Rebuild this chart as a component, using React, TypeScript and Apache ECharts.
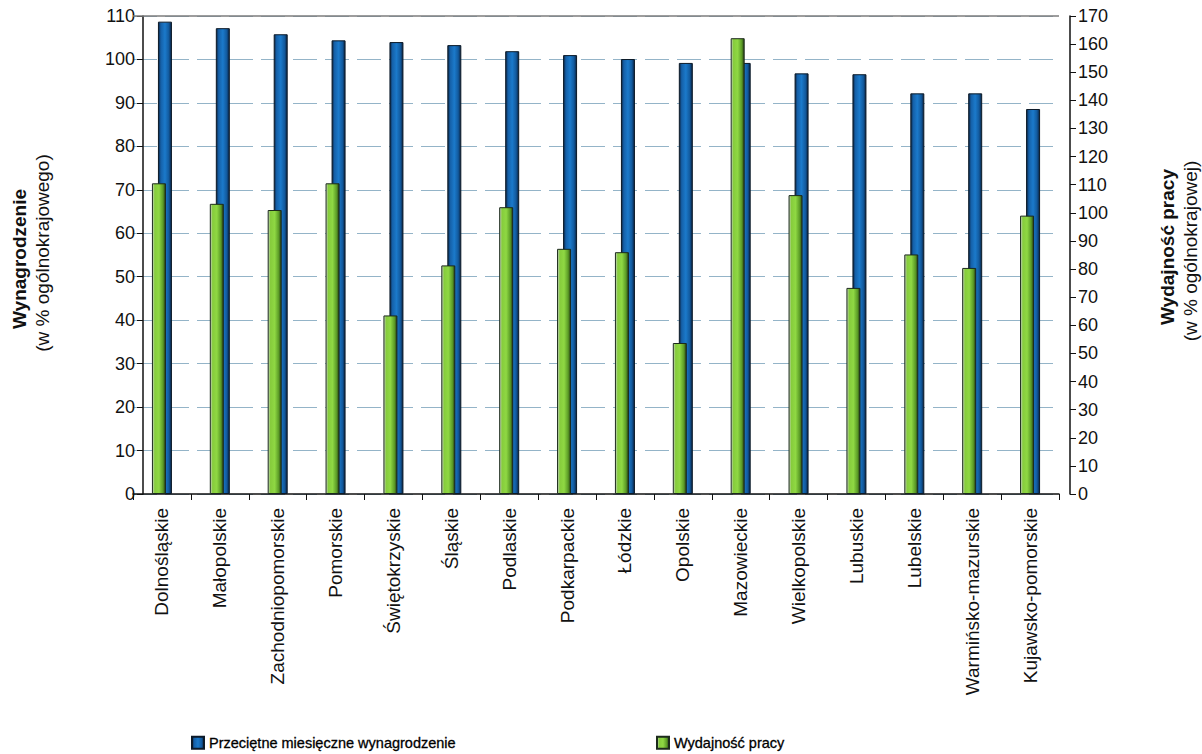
import React, { useEffect, useRef } from "react";
import * as echarts from "echarts";

// Regions (voivodeships), ordered by average monthly wage
const regions = [
  "Dolnośląskie",
  "Małopolskie",
  "Zachodniopomorskie",
  "Pomorskie",
  "Świętokrzyskie",
  "Śląskie",
  "Podlaskie",
  "Podkarpackie",
  "Łódzkie",
  "Opolskie",
  "Mazowieckie",
  "Wielkopolskie",
  "Lubuskie",
  "Lubelskie",
  "Warmińsko-mazurskie",
  "Kujawsko-pomorskie",
];

// Average monthly wage, % of national level (left axis)
const wages = [108.7, 107.2, 105.8, 104.4, 104.0, 103.3, 101.9, 101.0, 100.1, 99.2, 99.2, 96.8, 96.6, 92.2, 92.2, 88.6];

// Labour productivity, % of national level (right axis)
const productivity = [110.5, 103.2, 101.0, 110.5, 63.5, 81.3, 102.0, 87.2, 86.0, 53.7, 162.1, 106.3, 73.3, 85.2, 80.4, 99.0];

const wageName = "Przeciętne miesięczne wynagrodzenie";
const productivityName = "Wydajność pracy";

const FONT = '"Liberation Sans", Arial, Helvetica, sans-serif';

const blueFill = new echarts.graphic.LinearGradient(0, 0, 1, 0, [
  { offset: 0, color: "#0b2544" },
  { offset: 0.18, color: "#1560a8" },
  { offset: 0.5, color: "#1b7acb" },
  { offset: 0.8, color: "#125a9e" },
  { offset: 1, color: "#0a2342" },
]);

const greenFill = new echarts.graphic.LinearGradient(0, 0, 1, 0, [
  { offset: 0, color: "#c9d2c6" },
  { offset: 0.18, color: "#86cc3c" },
  { offset: 0.5, color: "#8fd843" },
  { offset: 0.82, color: "#5a9a26" },
  { offset: 1, color: "#253a14" },
]);

function axisTitle(text: string, x: number, y: number, bold: boolean) {
  return {
    type: "text",
    x,
    y,
    rotation: Math.PI / 2,
    style: {
      text,
      fill: "#111",
      font: `${bold ? "bold " : ""}19px ${FONT}`,
      align: "center",
      verticalAlign: "middle",
      textAlign: "center",
      textVerticalAlign: "middle",
    },
  };
}

export default function App() {
  const ref = useRef<HTMLDivElement>(null);

  useEffect(() => {
    if (!ref.current) return;
    const chart = echarts.init(ref.current, null, { renderer: "svg" });

    const tickLabel = { color: "#111", fontSize: 18, fontFamily: FONT };
    const legendText = {
      color: "#000",
      fontSize: 14.5,
      fontFamily: FONT,
      textBorderColor: "#000",
      textBorderWidth: 0.3,
    };

    chart.setOption({
      animation: false,
      backgroundColor: "#ffffff",
      textStyle: { fontFamily: FONT },
      grid: {
        left: 133,
        right: 143,
        top: 16,
        bottom: 260,
        outerBoundsMode: "none",
      },
      legend: [
        {
          data: [wageName],
          left: 186,
          top: 730,
          icon: "rect",
          itemWidth: 12,
          itemHeight: 12,
          textStyle: legendText,
        },
        {
          data: [productivityName],
          left: 651,
          top: 730,
          icon: "rect",
          itemWidth: 12,
          itemHeight: 12,
          textStyle: legendText,
        },
      ],
      xAxis: {
        type: "category",
        data: regions,
        axisLine: { lineStyle: { color: "#111", width: 1.5 } },
        axisTick: { show: true, length: 6, lineStyle: { color: "#111" } },
        axisLabel: { ...tickLabel, fontSize: 19, rotate: 90, margin: 14, interval: 0 },
        splitLine: { show: false },
      },
      yAxis: [
        {
          type: "value",
          min: 0,
          max: 110,
          interval: 10,
          position: "left",
          offset: -10,
          axisLine: { show: true, lineStyle: { color: "#111", width: 1.5 } },
          axisTick: { show: true, length: 6, lineStyle: { color: "#111" } },
          axisLabel: { ...tickLabel, margin: 8 },
          splitLine: {
            show: true,
            lineStyle: { color: "#94b4c8", width: 1.2, type: [24, 8] },
          },
        },
        {
          type: "value",
          min: 0,
          max: 170,
          interval: 10,
          position: "right",
          offset: 11,
          axisLine: { show: true, lineStyle: { color: "#111", width: 1.5 } },
          axisTick: { show: true, length: 6, lineStyle: { color: "#111" } },
          axisLabel: { ...tickLabel, margin: 8 },
          splitLine: { show: false },
        },
      ],
      series: [
        {
          name: productivityName,
          type: "bar",
          yAxisIndex: 1,
          data: productivity,
          barWidth: 14,
          barGap: "-57%",
          z: 3,
          itemStyle: { color: greenFill, borderColor: "#1c2a1c", borderWidth: 1 },
        },
        {
          name: wageName,
          type: "bar",
          yAxisIndex: 0,
          data: wages,
          barWidth: 14,
          z: 2,
          itemStyle: { color: blueFill, borderColor: "#0c1a28", borderWidth: 1 },
          markLine: {
            silent: true,
            symbol: "none",
            label: { show: false },
            lineStyle: { color: "#7d7d7d", width: 1.5, type: "solid" },
            data: [{ yAxis: 110 }],
          },
        },
      ],
      graphic: [
        axisTitle("Wynagrodzenie", 19, 259, true),
        axisTitle("(w % ogólnokrajowego)", 42, 253, false),
        axisTitle("Wydajność pracy", 1167, 247, true),
        axisTitle("(w % ogólnokrajowej)", 1190, 251, false),
      ],
    });

    return () => chart.dispose();
  }, []);

  return <div ref={ref} style={{ width: 1202, height: 754, position: "absolute", left: 0, top: 0 }} />;
}
